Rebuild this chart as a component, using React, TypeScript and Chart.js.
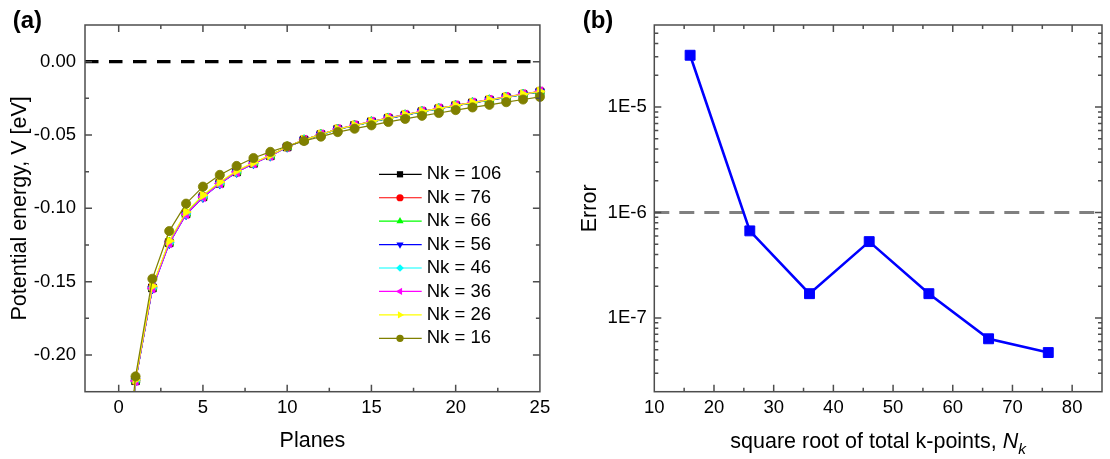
import React, { useEffect, useRef } from 'react';
import { Chart, registerables } from 'chart.js';

Chart.register(...registerables);

const FONT = '"Liberation Sans", Arial, Helvetica, sans-serif';
const AXIS_COLOR = '#4d4d4d';
const MAJOR_TICK = 7;
const MINOR_TICK = 4;

// ---------- Panel (a): potential energy per plane for several k-point meshes ----------
const planes = [0, 1, 2, 3, 4, 5, 6, 7, 8, 9, 10, 11, 12, 13, 14, 15, 16, 17, 18, 19, 20, 21, 22, 23, 24, 25];

const nk106 = [-0.335, -0.2175, -0.1542, -0.1234, -0.1037, -0.0921, -0.0829, -0.0751, -0.0693, -0.0641, -0.0581, -0.0534, -0.0497, -0.0461, -0.0435, -0.0410, -0.0386, -0.0364, -0.0341, -0.0321, -0.0300, -0.0281, -0.0262, -0.0243, -0.0224, -0.0206];
const nk76 = [-0.334, -0.2173, -0.1540, -0.1232, -0.1035, -0.0919, -0.0828, -0.0750, -0.0692, -0.0640, -0.0580, -0.0533, -0.0496, -0.0460, -0.0434, -0.0409, -0.0384, -0.0362, -0.0339, -0.0319, -0.0298, -0.0279, -0.0260, -0.0241, -0.0222, -0.0203];
const nk66 = [-0.334, -0.2172, -0.1539, -0.1231, -0.1034, -0.0918, -0.0827, -0.0749, -0.0691, -0.0640, -0.0580, -0.0533, -0.0496, -0.0461, -0.0435, -0.0410, -0.0385, -0.0363, -0.0340, -0.0320, -0.0299, -0.0280, -0.0261, -0.0242, -0.0223, -0.0204];
const nk56 = [-0.336, -0.2178, -0.1548, -0.1240, -0.1042, -0.0925, -0.0833, -0.0754, -0.0695, -0.0643, -0.0582, -0.0535, -0.0498, -0.0462, -0.0436, -0.0411, -0.0386, -0.0364, -0.0341, -0.0321, -0.0300, -0.0281, -0.0262, -0.0243, -0.0224, -0.0205];
const nk46 = [-0.335, -0.2175, -0.1543, -0.1235, -0.1038, -0.0921, -0.0830, -0.0751, -0.0693, -0.0641, -0.0581, -0.0534, -0.0497, -0.0461, -0.0435, -0.0410, -0.0385, -0.0363, -0.0340, -0.0320, -0.0299, -0.0280, -0.0261, -0.0242, -0.0223, -0.0204];
const nk36 = [-0.336, -0.2177, -0.1546, -0.1238, -0.1040, -0.0923, -0.0831, -0.0752, -0.0694, -0.0642, -0.0581, -0.0533, -0.0495, -0.0459, -0.0433, -0.0408, -0.0383, -0.0361, -0.0338, -0.0318, -0.0297, -0.0278, -0.0259, -0.0240, -0.0221, -0.0202];
const nk26 = [-0.333, -0.2168, -0.1530, -0.1222, -0.1025, -0.0910, -0.0820, -0.0744, -0.0688, -0.0638, -0.0579, -0.0533, -0.0496, -0.0460, -0.0434, -0.0409, -0.0384, -0.0362, -0.0339, -0.0319, -0.0298, -0.0279, -0.0260, -0.0241, -0.0222, -0.0203];
const nk16 = [-0.325, -0.2146, -0.1480, -0.1155, -0.0968, -0.0852, -0.0772, -0.0711, -0.0657, -0.0615, -0.0577, -0.0541, -0.0511, -0.0480, -0.0457, -0.0434, -0.0411, -0.0390, -0.0369, -0.0350, -0.0330, -0.0312, -0.0294, -0.0276, -0.0258, -0.0240];

const nkSeries = [nk106, nk76, nk66, nk56, nk46, nk36, nk26, nk16];
const nkLabels = ['Nk = 106', 'Nk = 76', 'Nk = 66', 'Nk = 56', 'Nk = 46', 'Nk = 36', 'Nk = 26', 'Nk = 16'];
const nkColors = ['#000000', '#ff0000', '#00ff00', '#0000ff', '#00ffff', '#ff00ff', '#ffff00', '#808000'];
const nkStyles = ['rect', 'circle', 'triangle', 'triangle', 'rectRot', 'triangle', 'triangle', 'circle'];
const nkRotations = [0, 0, 0, 180, 0, 270, 90, 0];
const nkRadii = [5.5, 4.5, 5.2, 5.2, 4.8, 5.2, 5.2, 4.6];

const zeroLineX = [-2, 25];
const zeroLineY = [0, 0];

const xTicksA = [0, 5, 10, 15, 20, 25];
const xMinorA = [2.5, 7.5, 12.5, 17.5, 22.5];
const yTicksA = [0, -0.05, -0.1, -0.15, -0.2];
const yMinorA = [-0.025, -0.075, -0.125, -0.175];

// ---------- Panel (b): convergence error versus k-point density ----------
const nkB = [16, 26, 36, 46, 56, 66, 76];
const errB = [3.1e-5, 6.7e-7, 1.7e-7, 5.3e-7, 1.7e-7, 6.35e-8, 4.7e-8];
const thresholdX = [10, 85];
const thresholdY = [1e-6, 1e-6];

const xTicksB = [10, 20, 30, 40, 50, 60, 70, 80];
const xMinorB = [15, 25, 35, 45, 55, 65, 75];
const yTicksB = [1e-7, 1e-6, 1e-5];
const yMinorB = [
  3e-8, 4e-8, 5e-8, 6e-8, 7e-8, 8e-8, 9e-8,
  2e-7, 3e-7, 4e-7, 5e-7, 6e-7, 7e-7, 8e-7, 9e-7,
  2e-6, 3e-6, 4e-6, 5e-6, 6e-6, 7e-6, 8e-6, 9e-6,
  2e-5, 3e-5, 4e-5, 5e-5,
];

// ---------- drawing helpers ----------
function drawFrame(chart: any, xMajor: number[], xMinor: number[], yMajor: number[], yMinor: number[]) {
  const { ctx, chartArea: a } = chart;
  const xs = chart.scales.x;
  const ys = chart.scales.y;
  ctx.save();
  ctx.strokeStyle = AXIS_COLOR;
  ctx.lineWidth = 1.5;
  ctx.beginPath();
  const xTick = (v: number, len: number) => {
    const p = xs.getPixelForValue(v);
    if (p <= a.left + 0.5 || p >= a.right - 0.5) return;
    ctx.moveTo(p, a.bottom);
    ctx.lineTo(p, a.bottom - len);
    ctx.moveTo(p, a.top);
    ctx.lineTo(p, a.top + len);
  };
  const yTick = (v: number, len: number) => {
    const p = ys.getPixelForValue(v);
    if (p <= a.top + 0.5 || p >= a.bottom - 0.5) return;
    ctx.moveTo(a.left, p);
    ctx.lineTo(a.left + len, p);
    ctx.moveTo(a.right, p);
    ctx.lineTo(a.right - len, p);
  };
  xMajor.forEach((v) => xTick(v, MAJOR_TICK));
  xMinor.forEach((v) => xTick(v, MINOR_TICK));
  yMajor.forEach((v) => yTick(v, MAJOR_TICK));
  yMinor.forEach((v) => yTick(v, MINOR_TICK));
  ctx.stroke();
  ctx.strokeRect(a.left, a.top, a.right - a.left, a.bottom - a.top);
  ctx.restore();
}

function drawMarker(ctx: CanvasRenderingContext2D, style: string, rotation: number, x: number, y: number, r: number) {
  let rad = (rotation * Math.PI) / 180;
  ctx.beginPath();
  if (style === 'circle') {
    ctx.arc(x, y, r, 0, Math.PI * 2);
  } else if (style === 'rect') {
    const s = r * Math.SQRT1_2;
    ctx.rect(x - s, y - s, 2 * s, 2 * s);
  } else if (style === 'rectRot') {
    ctx.moveTo(x - r, y);
    ctx.lineTo(x, y - r);
    ctx.lineTo(x + r, y);
    ctx.lineTo(x, y + r);
    ctx.closePath();
  } else {
    ctx.moveTo(x + Math.sin(rad) * r, y - Math.cos(rad) * r);
    rad += (Math.PI * 2) / 3;
    ctx.lineTo(x + Math.sin(rad) * r, y - Math.cos(rad) * r);
    rad += (Math.PI * 2) / 3;
    ctx.lineTo(x + Math.sin(rad) * r, y - Math.cos(rad) * r);
    ctx.closePath();
  }
  ctx.fill();
}

function drawPanelLabel(ctx: CanvasRenderingContext2D, text: string, x: number, y: number) {
  ctx.save();
  ctx.fillStyle = '#000';
  ctx.font = `bold 24px ${FONT}`;
  ctx.textBaseline = 'alphabetic';
  ctx.textAlign = 'left';
  ctx.fillText(text, x, y);
  ctx.restore();
}

const leftDecor = {
  id: 'leftDecor',
  afterDraw(chart: any) {
    const { ctx, chartArea: a } = chart;
    drawFrame(chart, xTicksA, xMinorA, yTicksA, yMinorA);

    // legend: line with centred marker, then label
    const lineX0 = a.left + 294;
    const lineX1 = a.left + 336.7;
    const markX = a.left + 315;
    const textX = a.left + 341.7;
    const y0 = a.top + 149.3;
    const step = 23.43;
    ctx.save();
    ctx.font = `18.5px ${FONT}`;
    ctx.textBaseline = 'middle';
    ctx.textAlign = 'left';
    nkLabels.forEach((label, i) => {
      const y = y0 + i * step;
      ctx.strokeStyle = nkColors[i];
      ctx.fillStyle = nkColors[i];
      ctx.lineWidth = 1.2;
      ctx.beginPath();
      ctx.moveTo(lineX0, y);
      ctx.lineTo(lineX1, y);
      ctx.stroke();
      drawMarker(ctx, nkStyles[i], nkRotations[i], markX, y, nkRadii[i] * 0.8);
      ctx.fillStyle = '#000';
      ctx.fillText(label, textX, y);
    });
    ctx.restore();

    drawPanelLabel(ctx, '(a)', 12.7, 27.5);
  },
};

const rightDecor = {
  id: 'rightDecor',
  afterDraw(chart: any) {
    const { ctx, chartArea: a } = chart;
    drawFrame(chart, xTicksB, xMinorB, yTicksB, yMinorB);

    // x-axis title with italic N and subscript k
    const main = 'square root of total k-points, ';
    ctx.save();
    ctx.fillStyle = '#000';
    ctx.textBaseline = 'alphabetic';
    ctx.textAlign = 'left';
    ctx.font = `21.5px ${FONT}`;
    const wMain = ctx.measureText(main).width;
    ctx.font = `italic 21.5px ${FONT}`;
    const wN = ctx.measureText('N').width;
    ctx.font = `italic 15.5px ${FONT}`;
    const wk = ctx.measureText('k').width;
    const total = wMain + wN + wk;
    let x = (a.left + a.right) / 2 - total / 2;
    const base = 447.5;
    ctx.font = `21.5px ${FONT}`;
    ctx.fillText(main, x, base);
    x += wMain;
    ctx.font = `italic 21.5px ${FONT}`;
    ctx.fillText('N', x, base);
    x += wN;
    ctx.font = `italic 15.5px ${FONT}`;
    ctx.fillText('k', x, base + 6);
    ctx.restore();

    drawPanelLabel(ctx, '(b)', 27.7, 27.5);
  },
};

const tickFont = { size: 18.5, family: FONT };
const titleFont = { size: 21.5, family: FONT };

function leftConfig(): any {
  const datasets: any[] = nkSeries.map((series, i) => ({
    label: nkLabels[i],
    data: planes.map((p, j) => ({ x: p, y: series[j] })),
    borderColor: nkColors[i],
    backgroundColor: nkColors[i],
    pointBackgroundColor: nkColors[i],
    pointBorderColor: nkColors[i],
    pointBorderWidth: 0.8,
    borderWidth: 1.2,
    pointStyle: nkStyles[i],
    pointRotation: nkRotations[i],
    pointRadius: nkRadii[i],
    tension: 0,
    order: nkSeries.length - i,
    clip: { left: 12, top: 12, right: 12, bottom: 0 },
  }));
  datasets.push({
    label: 'zero',
    data: zeroLineX.map((x, j) => ({ x, y: zeroLineY[j] })),
    borderColor: '#000000',
    borderWidth: 3.2,
    borderDash: [13.5, 10.5],
    pointRadius: 0,
    order: 20,
  });
  return {
    type: 'line',
    data: { datasets },
    options: {
      responsive: false,
      animation: false,
      events: [],
      layout: { padding: { left: 0, right: 14, top: 25, bottom: 0 } },
      plugins: { legend: { display: false }, tooltip: { enabled: false } },
      scales: {
        x: {
          type: 'linear',
          position: 'bottom',
          min: -2,
          max: 25,
          grid: { display: false, drawTicks: false },
          border: { display: false },
          afterBuildTicks: (s: any) => { s.ticks = xTicksA.map((v) => ({ value: v })); },
          afterFit: (s: any) => { s.height = 67.3; },
          ticks: { padding: 4.8, maxRotation: 0, autoSkip: false, color: '#000', font: tickFont, callback: (v: any) => String(v) },
          title: { display: true, text: 'Planes', color: '#000', font: titleFont, padding: { top: 0, bottom: 5.1 } },
        },
        y: {
          type: 'linear',
          min: -0.225,
          max: 0.025,
          grid: { display: false, drawTicks: false },
          border: { display: false },
          afterBuildTicks: (s: any) => { s.ticks = yTicksA.map((v) => ({ value: v })); },
          afterFit: (s: any) => { s.width = 85; },
          ticks: { padding: 9, color: '#000', font: tickFont, callback: (v: any) => Number(v).toFixed(2) },
          title: { display: true, text: 'Potential energy, V [eV]', color: '#000', font: titleFont, padding: { top: 6.8, bottom: 0 } },
        },
      },
    },
    plugins: [leftDecor],
  };
}

function rightConfig(): any {
  return {
    type: 'line',
    data: {
      datasets: [
        {
          label: 'Error',
          data: nkB.map((x, j) => ({ x, y: errB[j] })),
          borderColor: '#0000ff',
          backgroundColor: '#0000ff',
          pointBackgroundColor: '#0000ff',
          pointBorderColor: '#0000ff',
          pointBorderWidth: 1,
          borderWidth: 2.6,
          pointStyle: 'rect',
          pointRadius: 7,
          tension: 0,
          order: 0,
        },
        {
          label: 'threshold',
          data: thresholdX.map((x, j) => ({ x, y: thresholdY[j] })),
          borderColor: '#808080',
          borderWidth: 3,
          borderDash: [15, 10],
          pointRadius: 0,
          order: 1,
        },
      ],
    },
    options: {
      responsive: false,
      animation: false,
      events: [],
      layout: { padding: { left: 0, right: 1.5, top: 25, bottom: 0 } },
      plugins: { legend: { display: false }, tooltip: { enabled: false } },
      scales: {
        x: {
          type: 'linear',
          position: 'bottom',
          min: 10,
          max: 85,
          grid: { display: false, drawTicks: false },
          border: { display: false },
          afterBuildTicks: (s: any) => { s.ticks = xTicksB.map((v) => ({ value: v })); },
          afterFit: (s: any) => { s.height = 67.3; },
          ticks: { padding: 4.8, maxRotation: 0, autoSkip: false, color: '#000', font: tickFont, callback: (v: any) => String(v) },
          title: { display: false },
        },
        y: {
          type: 'logarithmic',
          min: 2e-8,
          max: 6e-5,
          grid: { display: false, drawTicks: false },
          border: { display: false },
          afterBuildTicks: (s: any) => { s.ticks = yTicksB.map((v) => ({ value: v })); },
          afterFit: (s: any) => { s.width = 99.3; },
          ticks: { padding: 7.6, color: '#000', font: tickFont, callback: (v: any) => '1E' + Math.round(Math.log10(Number(v))) },
          title: { display: true, text: 'Error', color: '#000', font: titleFont, padding: { top: 22, bottom: 0 } },
        },
      },
    },
    plugins: [rightDecor],
  };
}

export default function App() {
  const leftRef = useRef<HTMLCanvasElement>(null);
  const rightRef = useRef<HTMLCanvasElement>(null);

  useEffect(() => {
    const a = new Chart(leftRef.current as HTMLCanvasElement, leftConfig());
    const b = new Chart(rightRef.current as HTMLCanvasElement, rightConfig());
    return () => {
      a.destroy();
      b.destroy();
    };
  }, []);

  return (
    <div style={{ position: 'absolute', left: 0, top: 0, width: 1110, height: 459, background: '#fff', overflow: 'hidden' }}>
      <div style={{ position: 'absolute', left: 0, top: 0, width: 555, height: 459 }}>
        <canvas ref={leftRef} width={555} height={459} style={{ display: 'block' }} />
      </div>
      <div style={{ position: 'absolute', left: 555, top: 0, width: 555, height: 459 }}>
        <canvas ref={rightRef} width={555} height={459} style={{ display: 'block' }} />
      </div>
    </div>
  );
}
